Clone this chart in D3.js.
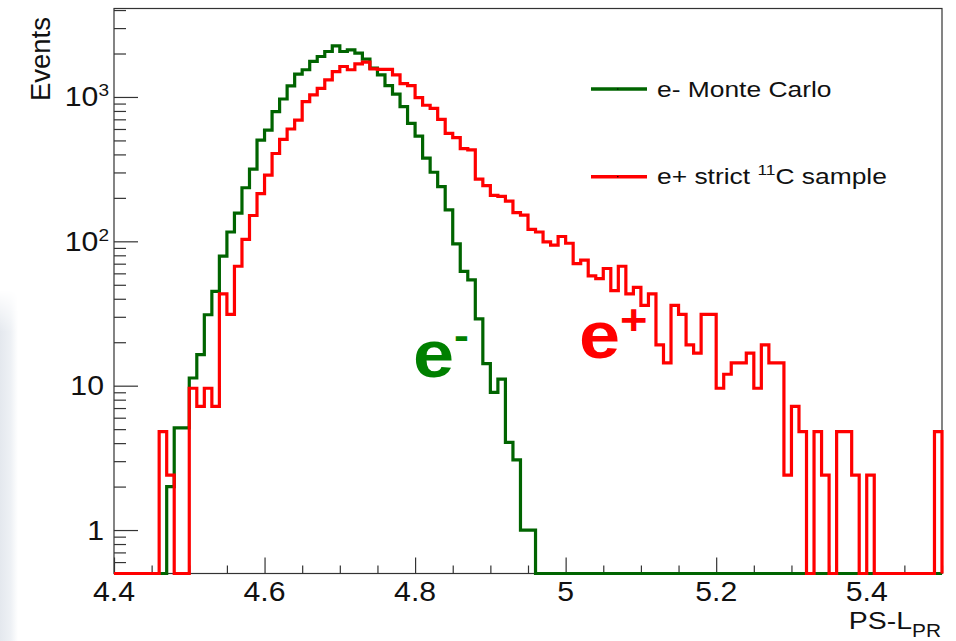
<!DOCTYPE html>
<html>
<head>
<meta charset="utf-8">
<script src="https://cdn.jsdelivr.net/npm/d3@7"></script>
<style>
  html, body { margin: 0; padding: 0; background: #ffffff; }
  svg { display: block; font-family: "Liberation Sans", Arial, Helvetica, sans-serif; }
</style>
</head>
<body>
<svg id="chart" width="956" height="641"></svg>
<script>
// Histogram binning: 110 bins of width 0.01 starting at PS-L_PR = 4.4
const binLow = 4.4;
const binWidth = 0.01;

// e- Monte Carlo, events per bin
const electronMC = [
  0, 0, 0, 0, 0, 0, 0, 2, 5.1, 5.1,
  11.3, 16.4, 31, 45, 79, 116, 157, 235, 316, 503,
  590, 792, 968, 1192, 1438, 1543, 1762, 1907, 2065, 2258,
  2065, 2117, 2013, 1828, 1582, 1422, 1200, 1045, 857, 657,
  535, 377, 301, 239, 165, 96, 62, 54, 29, 14.2,
  9.0, 11.1, 4.05, 3.06, 1.0, 1.0, 0, 0, 0, 0,
  0, 0, 0, 0, 0, 0, 0, 0, 0, 0,
  0, 0, 0, 0, 0, 0, 0, 0, 0, 0,
  0, 0, 0, 0, 0, 0, 0, 0, 0, 0,
  0, 0, 0, 0, 0, 0, 0, 0, 0, 0,
  0, 0, 0, 0, 0, 0, 0, 0, 0, 0
];

// e+ strict 11C sample, events per bin (normalised)
const positronC11 = [
  0, 0, 0, 0, 0, 0, 4.8, 2.4, 0, 0,
  9.6, 7.2, 9.6, 7.2, 43.2, 31.2, 67.2, 103, 151, 214,
  287, 406, 508, 600, 692, 929, 1033, 1148, 1312, 1500,
  1625, 1543, 1694, 1741, 1563, 1555, 1555, 1422, 1238, 1200,
  991, 876, 834, 700, 559, 523, 438, 430, 270, 243,
  208, 205, 190, 158, 152, 121, 116, 99, 94, 108,
  97, 70, 74, 57.6, 55.2, 64.8, 45.6, 67.2, 43.2, 48,
  36, 43.2, 19.2, 14.4, 36, 31.2, 19.2, 16.8, 31.2, 31.2,
  9.6, 12, 14.4, 14.4, 16.8, 9.6, 19.2, 14.4, 14.4, 2.4,
  7.2, 4.8, 0, 4.8, 2.4, 0, 4.8, 4.8, 2.4, 0,
  2.4, 0, 0, 0, 0, 0, 0, 0, 0, 4.8
];

// Axis ticks and labels
const xMajorTicks = [4.4, 4.6, 4.8, 5.0, 5.2, 5.4];
const xTickLabels = ["4.4", "4.6", "4.8", "5", "5.2", "5.4"];
const yMajorTicks = [1, 10, 100, 1000];
const yTickBase = ["1", "10", "10", "10"];
const yTickExp = ["", "", "2", "3"];

const seriesNames = ["e- Monte Carlo", "e+ strict "];
const colors = { electron: "#006400", positron: "#ff0000", axis: "#333333", text: "#111111" };

const svg = d3.select("#chart");
const W = 956, H = 641;
const frame = { left: 114, right: 942, top: 8.5, bottom: 573.5 };
const sx = 1.12; // horizontal stretch of lettering

const x = d3.scaleLinear().domain([4.4, 5.5]).range([frame.left, frame.right]);
const y = d3.scaleLog().domain([0.5, 4100]).range([frame.bottom, frame.top]);

svg.append("rect").attr("width", W).attr("height", H).attr("fill", "#ffffff");

// faint shaded strip along the lower left edge
const defs = svg.append("defs");
const grad = defs.append("linearGradient").attr("id", "edgeShade").attr("x1", 0).attr("x2", 1).attr("y1", 0).attr("y2", 0);
grad.append("stop").attr("offset", 0).attr("stop-color", "#e4e8ee");
grad.append("stop").attr("offset", 0.6).attr("stop-color", "#eef1f5");
grad.append("stop").attr("offset", 1).attr("stop-color", "#ffffff");
const vgrad = defs.append("linearGradient").attr("id", "edgeFade").attr("x1", 0).attr("x2", 0).attr("y1", 0).attr("y2", 1);
vgrad.append("stop").attr("offset", 0).attr("stop-color", "#fff").attr("stop-opacity", 0);
vgrad.append("stop").attr("offset", 0.12).attr("stop-color", "#fff").attr("stop-opacity", 1);
const mask = defs.append("mask").attr("id", "edgeMask");
mask.append("rect").attr("x", 0).attr("y", 290).attr("width", 20).attr("height", 351).attr("fill", "url(#edgeFade)");
svg.append("rect").attr("x", 0).attr("y", 290).attr("width", 18).attr("height", 351)
  .attr("fill", "url(#edgeShade)").attr("mask", "url(#edgeMask)");

// helper: text with horizontal stretch anchored at (px, py)
function label(parent, px, py, size, anchor, fill, weight, stretch) {
  const g = parent.append("g").attr("transform", `translate(${px},${py}) scale(${stretch || sx},1)`);
  return g.append("text")
    .attr("font-size", size)
    .attr("text-anchor", anchor || "start")
    .attr("font-weight", weight || "normal")
    .attr("fill", fill || colors.text);
}

// Frame
svg.append("rect")
  .attr("x", frame.left).attr("y", frame.top)
  .attr("width", frame.right - frame.left).attr("height", frame.bottom - frame.top)
  .attr("fill", "none").attr("stroke", colors.axis).attr("stroke-width", 1.2);

// X axis: major ticks with labels, minor ticks every 0.05
const xMinor = d3.range(0, 23).map(i => 4.4 + i * 0.05).filter(v => v <= 5.5 && !xMajorTicks.some(m => Math.abs(m - v) < 1e-6));
const gx = svg.append("g").attr("transform", `translate(0,${frame.bottom})`);
gx.append("g").call(d3.axisBottom(x).tickValues(xMinor).tickSize(-8).tickFormat(""))
  .call(g => g.select(".domain").remove())
  .selectAll("line").attr("stroke", colors.axis).attr("stroke-width", 1.2);
gx.append("g").call(d3.axisBottom(x).tickValues(xMajorTicks).tickSize(-16).tickFormat(""))
  .call(g => g.select(".domain").remove())
  .selectAll("line").attr("stroke", colors.axis).attr("stroke-width", 1.2);
xMajorTicks.forEach((v, i) => {
  label(svg, x(v), 600.5, 27, "middle").text(xTickLabels[i]);
});

// Y axis: log decades with minor ticks
const yAll = y.ticks().filter(v => v >= 0.5 && v <= 4100);
const yMinor = yAll.filter(v => !yMajorTicks.includes(v));
const gy = svg.append("g").attr("transform", `translate(${frame.left},0)`);
gy.append("g").call(d3.axisLeft(y).tickValues(yMinor).tickSize(-12).tickFormat(""))
  .call(g => g.select(".domain").remove())
  .selectAll("line").attr("stroke", colors.axis).attr("stroke-width", 1.2);
gy.append("g").call(d3.axisLeft(y).tickValues(yMajorTicks).tickSize(-24).tickFormat(""))
  .call(g => g.select(".domain").remove())
  .selectAll("line").attr("stroke", colors.axis).attr("stroke-width", 1.2);
yMajorTicks.forEach((v, i) => {
  const hasExp = yTickExp[i] !== "";
  const t = label(svg, hasExp ? 109 : 104, y(v) + 9.5, 27, "end");
  t.append("tspan").text(yTickBase[i]);
  if (hasExp) t.append("tspan").attr("font-size", 17).attr("dy", -10).text(yTickExp[i]);
});

// Axis titles
svg.append("text")
  .attr("transform", "translate(50,17) rotate(-90)")
  .attr("font-size", 27.5).attr("text-anchor", "end").attr("fill", colors.text)
  .text("Events");
{
  const t = label(svg, 941, 628.5, 24.5, "end", null, null, 1.16);
  t.append("tspan").text("PS-L");
  t.append("tspan").attr("font-size", 18).attr("dy", 8).text("PR");
}

// Histogram outlines as step paths
function stepPoints(values) {
  const pts = [[binLow, 0]];
  values.forEach((v, i) => pts.push([binLow + i * binWidth, v]));
  pts.push([binLow + values.length * binWidth, values[values.length - 1]]);
  pts.push([binLow + values.length * binWidth, 0]);
  return pts;
}
const yMin = y.domain()[0];
const step = d3.line()
  .x(d => x(d[0]))
  .y(d => y(Math.max(d[1], yMin)))
  .curve(d3.curveStepAfter);

svg.append("path").datum(stepPoints(electronMC))
  .attr("d", step).attr("fill", "none")
  .attr("stroke", colors.electron).attr("stroke-width", 3.2).attr("stroke-linejoin", "miter");
svg.append("path").datum(stepPoints(positronC11))
  .attr("d", step).attr("fill", "none")
  .attr("stroke", colors.positron).attr("stroke-width", 3.2).attr("stroke-linejoin", "miter");

// Legend
const legend = svg.append("g");
[[89, colors.electron], [176.7, colors.positron]].forEach(([ly, c], i) => {
  legend.append("line").attr("x1", 591).attr("x2", 647).attr("y1", ly).attr("y2", ly)
    .attr("stroke", c).attr("stroke-width", 3.5);
  legend.append("rect").attr("x", 617).attr("y", ly - 0.5).attr("width", 1.5).attr("height", 1).attr("fill", "#000");
});
label(legend, 657, 96.5, 22, "start", null, null, 1.2).text(seriesNames[0]);
{
  const t = label(legend, 657, 184, 22, "start", null, null, 1.2);
  t.append("tspan").text(seriesNames[1]);
  t.append("tspan").attr("font-size", 14.5).attr("dy", -9).text("11");
  t.append("tspan").attr("dy", 9).text("C sample");
}

// Curve annotations
{
  const t = label(svg, 413, 377, 66, "start", "#008000", "bold");
  t.append("tspan").text("e");
  t.append("tspan").attr("font-size", 40).attr("dy", -28).text("-");
}
{
  const t = label(svg, 579, 358, 66, "start", "#ff0000", "bold");
  t.append("tspan").text("e");
  t.append("tspan").attr("font-size", 42).attr("dy", -24).text("+");
}
</script>
</body>
</html>
